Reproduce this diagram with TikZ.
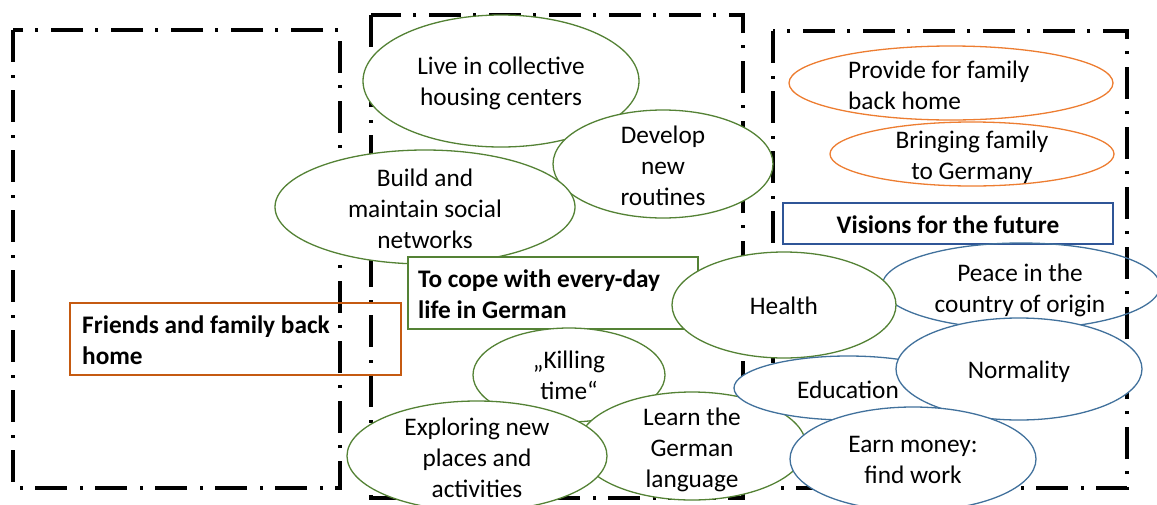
\documentclass[tikz,border=0pt]{standalone}
\usepackage{fontspec}
\setmainfont{Carlito}
\usetikzlibrary{shapes.geometric}
\definecolor{grn}{RGB}{84,130,53}
\definecolor{org}{RGB}{197,90,17}
\definecolor{orgl}{RGB}{237,125,49}
\definecolor{blu}{RGB}{65,113,156}
\definecolor{bluD}{RGB}{47,85,151}
\newcommand{\fs}{\fontsize{25.3}{31}\selectfont}
\tikzset{
  frame/.style={draw=black, line width=4pt, dash pattern=on 32pt off 13pt on 3pt off 12pt},
  ell/.style={ellipse, line width=1.3pt, fill=white, inner sep=0pt},
  gell/.style={ell, draw=grn},
  oell/.style={ell, draw=orgl},
  bell/.style={ell, draw=blu},
  txt/.style={align=center, font=\fs, inner sep=0pt, yshift=-2pt},
  ltxt/.style={align=left, font=\fs, inner sep=0pt, anchor=west, yshift=-2pt},
  btxt/.style={align=left, font=\fs\bfseries, inner sep=0pt, yshift=-1pt},
  rbox/.style={rectangle, line width=2pt, inner sep=0pt}
}
\begin{document}
\begin{tikzpicture}[x=1pt,y=-1pt]
\useasboundingbox (0,0) rectangle (1157,504);
% frames
\draw[frame] (13,30) rectangle (340,488);
\draw[frame] (371,15) rectangle (743,498);
\draw[frame] (773,31) rectangle (1127,488);
% friends box
\node[rbox, draw=org, minimum width=331pt, minimum height=72pt] (friends) at (235.5,339) {};
\node[btxt, anchor=west] (friendst) at (82,339) {Friends and family back\\home};
% green ellipses
\node[gell, minimum width=276pt, minimum height=132pt] (live) at (501,81) {};
\node[txt] (livet) at (501,81) {Live in collective\\housing centers};
\node[gell, minimum width=220pt, minimum height=108pt] (dev) at (663,164) {};
\node[txt] (devt) at (663,164) {Develop\\new\\routines};
\node[gell, minimum width=300pt, minimum height=114pt] (build) at (425,207) {};
\node[txt] (buildt) at (425,207) {Build and\\maintain social\\networks};
% cope box
\node[rbox, draw=grn, fill=white, minimum width=290pt, minimum height=72pt] (cope) at (553,293) {};
\node[btxt, anchor=west] (copet) at (418,293) {To cope with every-day\\life in German};
\node[gell, minimum width=192pt, minimum height=94pt] (kill) at (569,375) {};
\node[txt] (killt) at (569,373) {„Killing\\time“};
\node[gell, minimum width=228pt, minimum height=108pt] (learn) at (692,446) {};
\node[txt] (learnt) at (692,448) {Learn the\\German\\language};
\node[gell, minimum width=260pt, minimum height=110pt] (expl) at (477,456) {};
\node[txt] (explt) at (477,456) {Exploring new\\places and\\activities};
% right column
\node[rbox, draw=bluD, minimum width=330pt, minimum height=41pt] (vis) at (948,223.5) {};
\node[btxt] (vist) at (948,223.5) {Visions for the future};
\node[oell, minimum width=324pt, minimum height=74pt] (prov) at (951,83) {};
\node[ltxt] (provt) at (848,83) {Provide for family\\back home};
\node[oell, minimum width=284pt, minimum height=64pt] (bring) at (972,154) {};
\node[txt] (bringt) at (972,155) {Bringing family\\to Germany};
\node[bell, fill=none, minimum width=278pt, minimum height=86pt] (peace) at (1021,286) {};
\node[txt] (peacet) at (1020,288) {Peace in the\\country of origin};
\node[gell, minimum width=224pt, minimum height=106pt] (health) at (784,305) {};
\node[txt] (healtht) at (784,304) {Health};
\node[bell, minimum width=228pt, minimum height=64pt] (edu) at (848,388) {};
\node[txt] (edut) at (848,388) {Education};
\node[bell, minimum width=246pt, minimum height=102pt] (norm) at (1019,369) {};
\node[txt] (normt) at (1019,370) {Normality};
\node[bell, minimum width=246pt, minimum height=104pt] (earn) at (913,459) {};
\node[txt] (earnt) at (913,458) {Earn money:\\find work};
\end{tikzpicture}
\end{document}
